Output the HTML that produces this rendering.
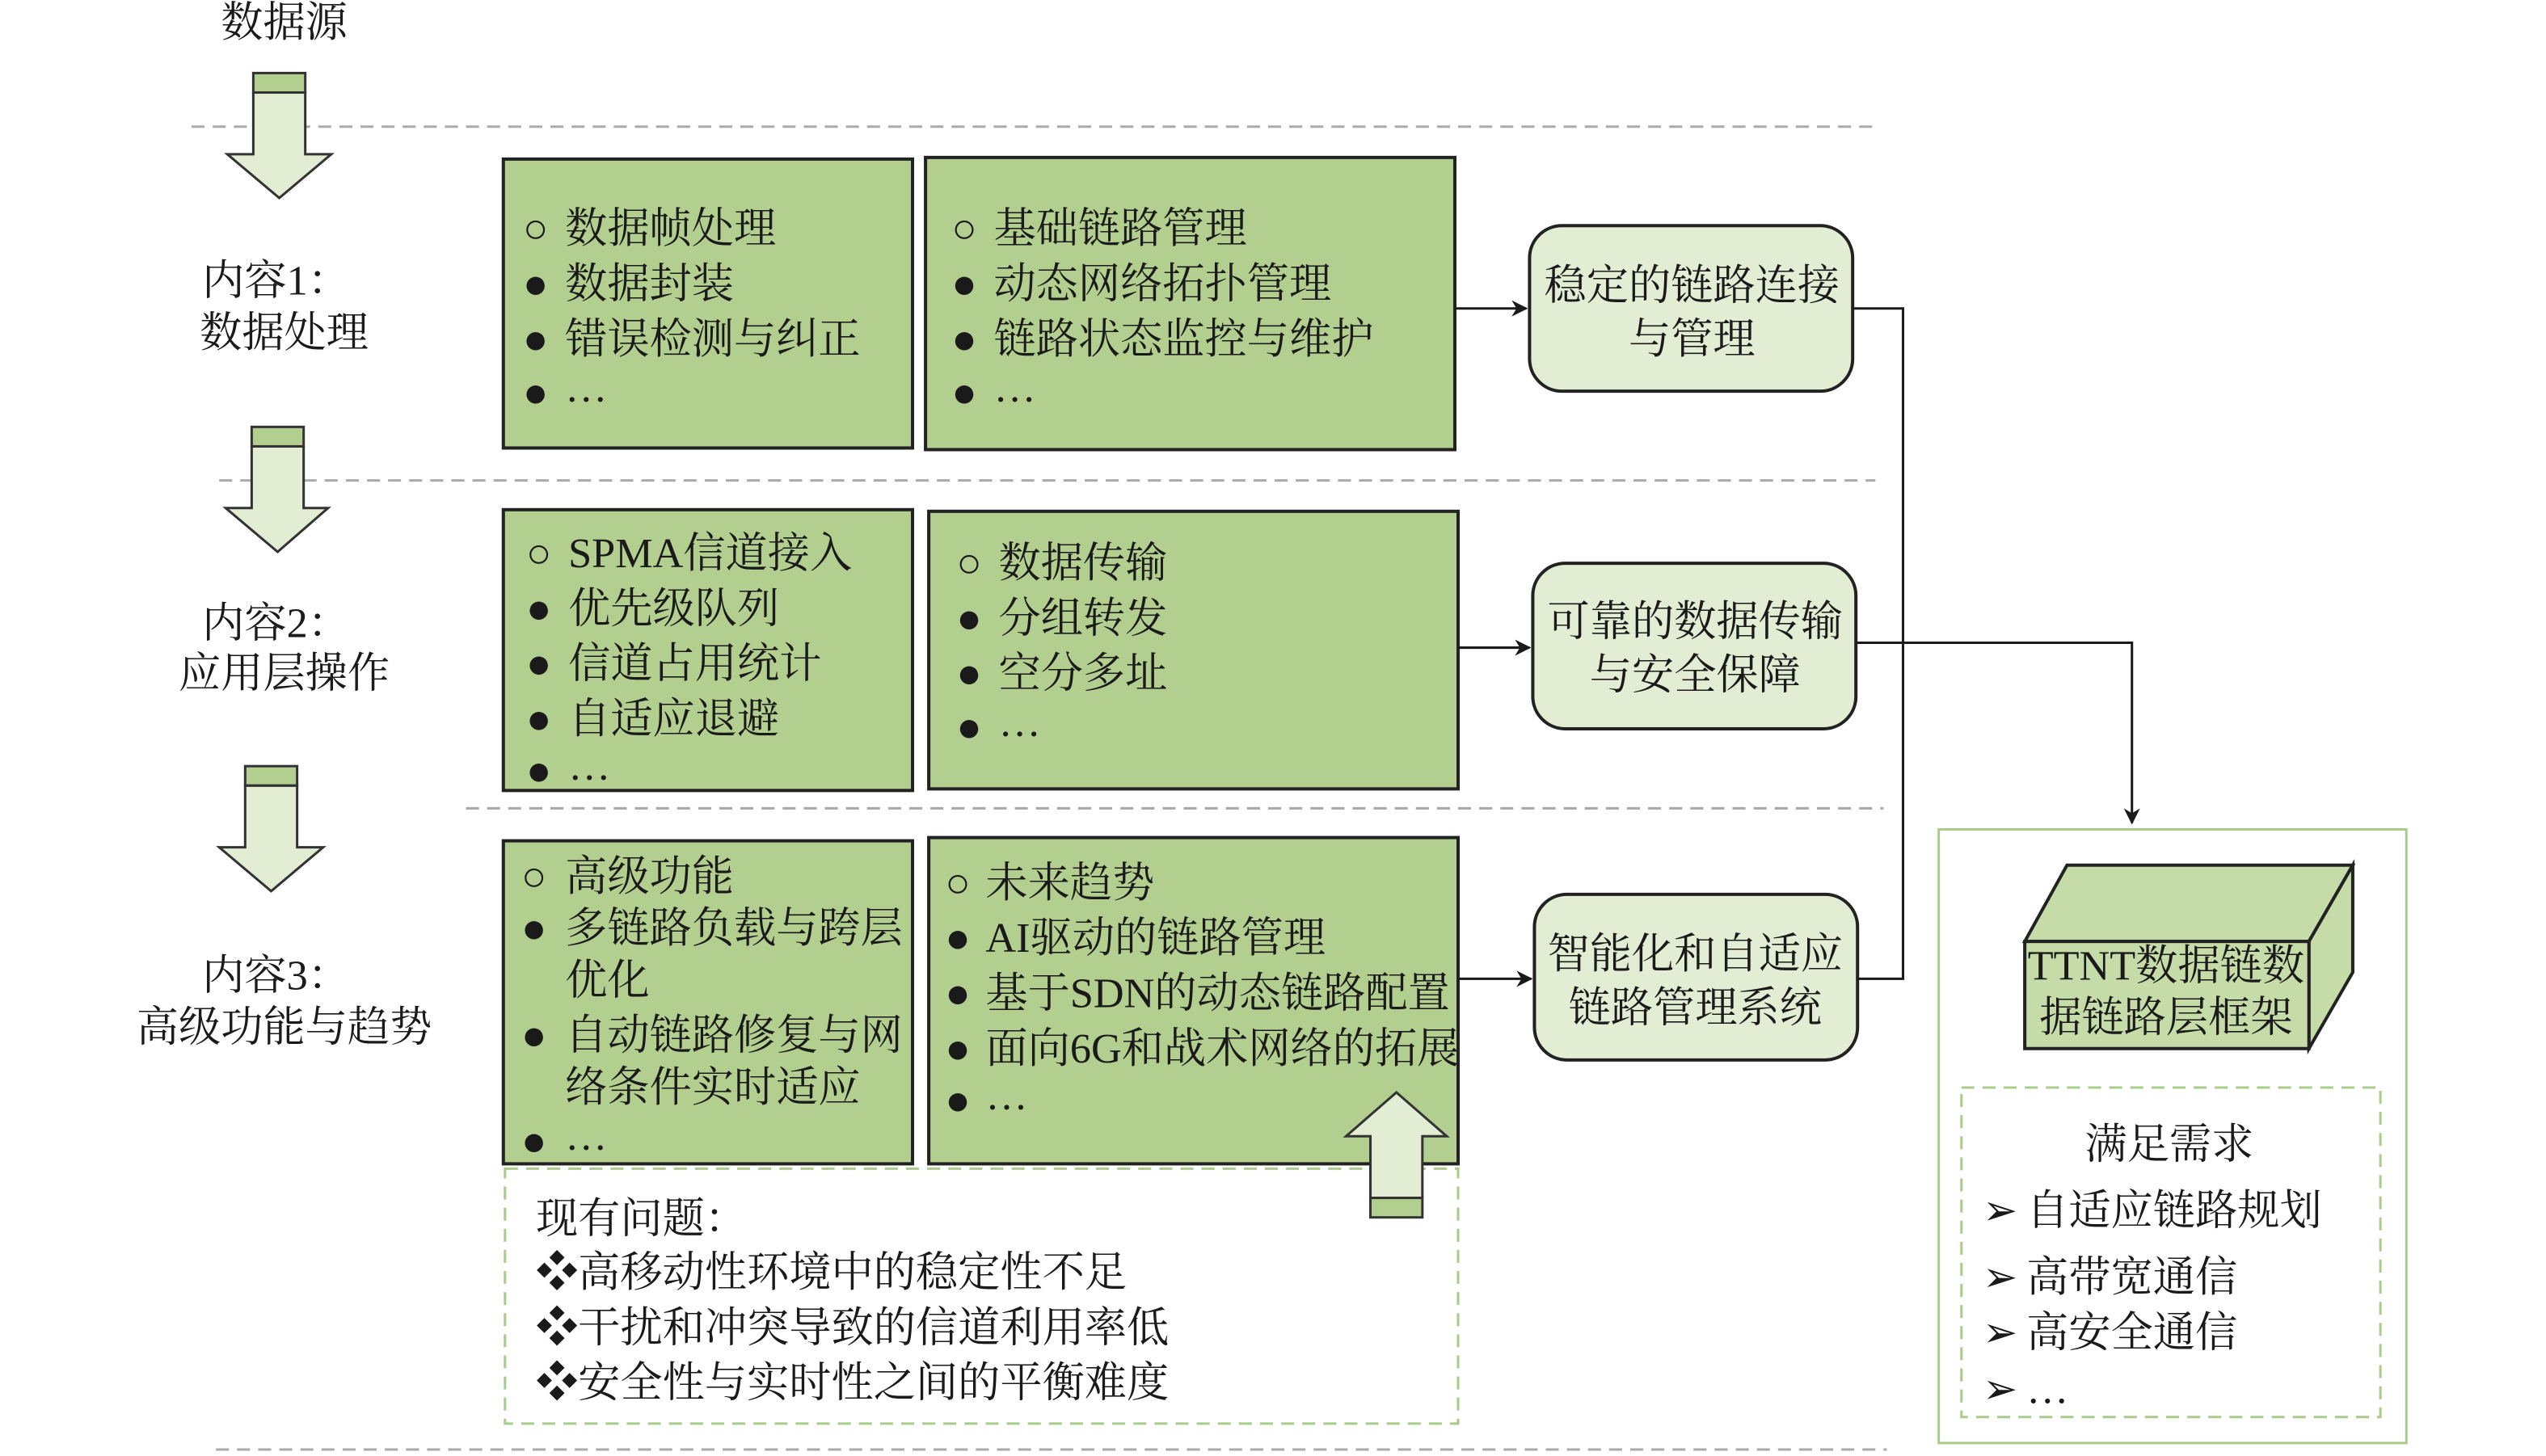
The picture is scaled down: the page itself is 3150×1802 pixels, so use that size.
<!DOCTYPE html>
<html><head><meta charset="utf-8"><style>
html,body{margin:0;padding:0;background:#fff;}
svg{display:block;}
text{font-family:"Liberation Serif","Noto Serif CJK SC",serif;font-size:26px;fill:#1a1a1a;dominant-baseline:central;}
</style></head><body>
<svg width="3150" height="1802" viewBox="0 0 1568 897" preserveAspectRatio="none" xmlns="http://www.w3.org/2000/svg">
<defs><marker id="ah" markerWidth="10" markerHeight="10" refX="9" refY="5" orient="auto" markerUnits="userSpaceOnUse"><path d="M0,0 L10,5 L0,10 L3,5 Z" fill="#1a1a1a"/></marker></defs>
<g stroke="#aaa" stroke-width="1.5" stroke-dasharray="8,5" fill="none">
<line x1="118" y1="78" x2="1158" y2="78"/>
<line x1="135" y1="296" x2="1155" y2="296"/>
<line x1="287" y1="498" x2="1160" y2="498"/>
<line x1="133" y1="893" x2="1162" y2="893"/>
</g>
<text x="175" y="14" text-anchor="middle">数据源</text>
<g stroke="#333" stroke-width="1.5">
<rect x="156" y="45" width="32" height="12" fill="#b3cf90"/>
<path d="M156,57 H188 V95 H204 L172,122 L140,95 H156 Z" fill="#e2edd3"/>
<rect x="155" y="263" width="32" height="12" fill="#b3cf90"/>
<path d="M155,275 H187 V313 H202 L171,340 L139,313 H155 Z" fill="#e2edd3"/>
<rect x="151" y="472" width="32" height="12" fill="#b3cf90"/>
<path d="M151,484 H183 V522 H199 L167,549 L135,522 H151 Z" fill="#e2edd3"/>
</g>
<g transform="translate(0,1)">
<text x="170" y="172" text-anchor="middle">内容1：</text>
<text x="175" y="204" text-anchor="middle">数据处理</text>
<text x="170" y="383" text-anchor="middle">内容2：</text>
<text x="175" y="414" text-anchor="middle">应用层操作</text>
<text x="170" y="600" text-anchor="middle">内容3：</text>
<text x="175" y="632" text-anchor="middle">高级功能与趋势</text>
</g>
<g fill="#b3cf90" stroke="#222" stroke-width="2">
<rect x="310" y="98" width="252" height="178"/>
<rect x="570" y="97" width="326" height="180"/>
<rect x="310" y="314" width="252" height="173"/>
<rect x="572" y="315" width="326" height="171"/>
<rect x="310" y="518" width="252" height="199"/>
<rect x="572" y="516" width="326" height="201"/>
</g>
<g transform="translate(0,1)">
<text x="322" y="140" font-size="18">○</text><text x="348" y="140">数据帧处理</text>
<text x="322" y="174" font-size="18">●</text><text x="348" y="174">数据封装</text>
<text x="322" y="208" font-size="18">●</text><text x="348" y="208">错误检测与纠正</text>
<text x="322" y="241" font-size="18">●</text><text x="348" y="238">…</text>
<text x="586" y="140" font-size="18">○</text><text x="612" y="140">基础链路管理</text>
<text x="586" y="174" font-size="18">●</text><text x="612" y="174">动态网络拓扑管理</text>
<text x="586" y="208" font-size="18">●</text><text x="612" y="208">链路状态监控与维护</text>
<text x="586" y="241" font-size="18">●</text><text x="612" y="238">…</text>
<text x="324" y="340" font-size="18">○</text><text x="350" y="340">SPMA信道接入</text>
<text x="324" y="374" font-size="18">●</text><text x="350" y="374">优先级队列</text>
<text x="324" y="408" font-size="18">●</text><text x="350" y="408">信道占用统计</text>
<text x="324" y="442" font-size="18">●</text><text x="350" y="442">自适应退避</text>
<text x="324" y="474" font-size="18">●</text><text x="350" y="471">…</text>
<text x="589" y="346" font-size="18">○</text><text x="615" y="346">数据传输</text>
<text x="589" y="380" font-size="18">●</text><text x="615" y="380">分组转发</text>
<text x="589" y="414" font-size="18">●</text><text x="615" y="414">空分多址</text>
<text x="589" y="447" font-size="18">●</text><text x="615" y="444">…</text>
<text x="321" y="539" font-size="18">○</text><text x="348" y="539">高级功能</text>
<text x="321" y="571" font-size="18">●</text><text x="348" y="571" font-size="25.5">多链路负载与跨层</text>
<text x="348" y="603">优化</text>
<text x="321" y="637" font-size="18">●</text><text x="348" y="637" font-size="25.5">自动链路修复与网</text>
<text x="348" y="669">络条件实时适应</text>
<text x="321" y="702" font-size="18">●</text><text x="348" y="699">…</text>
<text x="582" y="543" font-size="18">○</text><text x="607" y="543">未来趋势</text>
<text x="582" y="577" font-size="18">●</text><text x="607" y="577">AI驱动的链路管理</text>
<text x="582" y="611" font-size="18">●</text><text x="607" y="611" font-size="25">基于SDN的动态链路配置</text>
<text x="582" y="645" font-size="18">●</text><text x="607" y="645" font-size="25">面向6G和战术网络的拓展</text>
<text x="582" y="677" font-size="18">●</text><text x="607" y="674">…</text>
</g>
<g fill="#e2edd3" stroke="#222" stroke-width="2">
<rect x="942" y="139" width="199" height="102" rx="20"/>
<rect x="944" y="347" width="199" height="102" rx="20"/>
<rect x="945" y="551" width="199" height="102" rx="20"/>
</g>
<g transform="translate(0,1)">
<text x="1042" y="175" text-anchor="middle" font-size="25">稳定的链路连接</text>
<text x="1042" y="208" text-anchor="middle">与管理</text>
<text x="1044" y="382" text-anchor="middle" font-size="25">可靠的数据传输</text>
<text x="1044" y="415" text-anchor="middle">与安全保障</text>
<text x="1044" y="587" text-anchor="middle" font-size="25">智能化和自适应</text>
<text x="1044" y="620" text-anchor="middle">链路管理系统</text>
</g>
<g stroke="#1a1a1a" stroke-width="1.5" fill="none">
<line x1="896" y1="190" x2="940" y2="190" marker-end="url(#ah)"/>
<line x1="898" y1="399" x2="942" y2="399" marker-end="url(#ah)"/>
<line x1="898" y1="603" x2="943" y2="603" marker-end="url(#ah)"/>
<polyline points="1141,190 1172,190 1172,603 1144,603"/>
<polyline points="1143,396 1313,396 1313,507" marker-end="url(#ah)"/>
</g>
<rect x="1194" y="511" width="288" height="378" fill="none" stroke="#a9cc8a" stroke-width="1.5"/>
<g stroke="#222" stroke-width="2">
<path d="M1247,580 L1273,533 H1449 L1422,580 Z" fill="#c5dca9"/>
<path d="M1422,580 L1449,533 V599 L1422,646 Z" fill="#c5dca9"/>
<rect x="1247" y="580" width="175" height="66" fill="#c5dca9"/>
</g>
<text x="1334" y="595" text-anchor="middle" font-size="24">TTNT数据链数</text>
<text x="1334" y="627" text-anchor="middle" font-size="24">据链路层框架</text>
<rect x="1208" y="670" width="258" height="203" fill="none" stroke="#a9cc8a" stroke-width="1.5" stroke-dasharray="8,5"/>
<text x="1336" y="705" text-anchor="middle">满足需求</text>
<text x="1221" y="746" font-size="20">➢</text><text x="1221" y="787" font-size="20">➢</text><text x="1221" y="821" font-size="20">➢</text><text x="1221" y="856" font-size="20">➢</text>
<text x="1248" y="746">自适应链路规划</text>
<text x="1248" y="787">高带宽通信</text>
<text x="1248" y="821">高安全通信</text>
<text x="1248" y="856">…</text>
<rect x="311" y="720" width="587" height="157" fill="none" stroke="#a9cc8a" stroke-width="1.5" stroke-dasharray="8,5"/>
<text x="330" y="751">现有问题：</text>
<text x="330" y="784">❖高移动性环境中的稳定性不足</text>
<text x="330" y="818">❖干扰和冲突导致的信道利用率低</text>
<text x="330" y="852">❖安全性与实时性之间的平衡难度</text>
<g stroke="#333" stroke-width="1.5">
<path d="M844,738 V700 H829 L860,673 L891,700 H876 V738 Z" fill="#e2edd3"/>
<rect x="844" y="738" width="32" height="12" fill="#b3cf90"/>
</g>
</svg>
</body></html>
